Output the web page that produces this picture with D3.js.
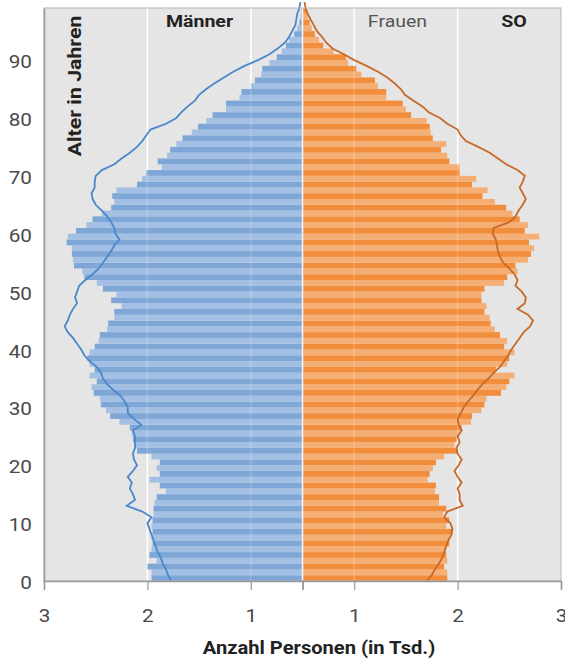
<!DOCTYPE html>
<html>
<head>
<meta charset="utf-8">
<script src="https://cdn.jsdelivr.net/npm/d3@7/dist/d3.min.js"></script>
<style>
  body { margin: 0; background: #fff; font-family: Roboto, "Liberation Sans", sans-serif; }
</style>
</head>
<body>
<div id="chart"></div>
<script>
// Anzahl Personen (in Tsd.) je Altersjahr 0..98, Balken
var maennerBalken = [
  1.96, 1.96, 2.00, 1.91, 1.98, 1.96, 1.95, 1.96, 1.95, 1.96,
  1.95, 1.94, 1.94, 1.93, 1.91, 1.82, 1.88, 1.98, 1.88, 1.91,
  1.88, 1.96, 2.10, 2.12, 2.14, 2.15, 2.17, 2.27, 2.36, 2.40,
  2.45, 2.46, 2.52, 2.54, 2.49, 2.56, 2.51, 2.56, 2.58, 2.56,
  2.51, 2.47, 2.46, 2.39, 2.38, 2.32, 2.32, 2.25, 2.35, 2.30,
  2.43, 2.49, 2.61, 2.63, 2.71, 2.72, 2.73, 2.73, 2.78, 2.77,
  2.69, 2.59, 2.53, 2.44, 2.35, 2.32, 2.34, 2.30, 2.10, 2.05,
  2.01, 1.86, 1.90, 1.81, 1.78, 1.72, 1.66, 1.57, 1.51, 1.43,
  1.37, 1.24, 1.24, 1.11, 1.09, 1.00, 0.96, 0.90, 0.89, 0.82,
  0.75, 0.70, 0.66, 0.63, 0.58, 0.55, 0.53, 0.52, 0.51
];
var frauenBalken = [
  1.90, 1.90, 1.87, 1.90, 1.89, 1.89, 1.92, 1.92, 1.95, 1.89,
  1.92, 1.86, 1.89, 1.82, 1.82, 1.78, 1.79, 1.71, 1.73, 1.76,
  1.79, 1.87, 2.00, 1.97, 1.99, 2.02, 2.04, 2.13, 2.14, 2.23,
  2.26, 2.28, 2.42, 2.47, 2.50, 2.55, 2.37, 2.48, 2.50, 2.55,
  2.45, 2.48, 2.41, 2.36, 2.32, 2.31, 2.26, 2.28, 2.23, 2.23,
  2.26, 2.45, 2.48, 2.58, 2.56, 2.68, 2.71, 2.74, 2.69, 2.79,
  2.65, 2.68, 2.60, 2.53, 2.47, 2.36, 2.24, 2.29, 2.14, 2.18,
  2.02, 2.02, 1.92, 1.90, 1.84, 1.89, 1.76, 1.74, 1.73, 1.70,
  1.55, 1.50, 1.47, 1.31, 1.31, 1.23, 1.20, 1.07, 1.02, 0.94,
  0.92, 0.80, 0.70, 0.66, 0.62, 0.59, 0.57, 0.55, 0.54
];
// Vergleichslinien je Altersjahr 0..100
var maennerLinie = [
  1.77, 1.80, 1.82, 1.85, 1.87, 1.90, 1.92, 1.94, 1.96, 1.98,
  2.00, 1.96, 2.05, 2.20, 2.12, 2.14, 2.17, 2.15, 2.19, 2.14,
  2.10, 2.13, 2.14, 2.12, 2.12, 2.12, 2.14, 2.06, 2.13, 2.19,
  2.19, 2.22, 2.26, 2.33, 2.39, 2.43, 2.45, 2.49, 2.56, 2.61,
  2.64, 2.68, 2.72, 2.77, 2.80, 2.77, 2.75, 2.72, 2.68, 2.70,
  2.68, 2.66, 2.60, 2.53, 2.47, 2.43, 2.39, 2.35, 2.32, 2.27,
  2.31, 2.32, 2.35, 2.39, 2.44, 2.50, 2.53, 2.54, 2.51, 2.51,
  2.50, 2.44, 2.32, 2.25, 2.17, 2.10, 2.05, 2.01, 1.97, 1.82,
  1.72, 1.67, 1.61, 1.54, 1.50, 1.43, 1.35, 1.26, 1.17, 1.06,
  0.93, 0.82, 0.74, 0.67, 0.63, 0.60, 0.57, 0.56, 0.55, 0.53,
  0.52
];
var frauenLinie = [
  1.70, 1.75, 1.78, 1.82, 1.85, 1.87, 1.89, 1.91, 1.94, 1.95,
  1.93, 1.87, 1.90, 2.05, 2.02, 2.02, 2.00, 2.04, 2.00, 1.97,
  2.01, 2.04, 2.00, 1.99, 2.02, 2.00, 2.04, 2.01, 2.00, 2.03,
  2.06, 2.10, 2.15, 2.19, 2.24, 2.30, 2.35, 2.41, 2.45, 2.49,
  2.52, 2.56, 2.60, 2.64, 2.70, 2.73, 2.68, 2.58, 2.65, 2.66,
  2.62, 2.56, 2.58, 2.55, 2.50, 2.44, 2.41, 2.39, 2.38, 2.37,
  2.34, 2.35, 2.50, 2.56, 2.59, 2.63, 2.66, 2.63, 2.60, 2.63,
  2.65, 2.58, 2.47, 2.39, 2.31, 2.20, 2.08, 2.03, 2.00, 1.90,
  1.83, 1.72, 1.66, 1.57, 1.49, 1.45, 1.39, 1.32, 1.23, 1.12,
  1.00, 0.90, 0.79, 0.73, 0.69, 0.64, 0.61, 0.58, 0.55, 0.53,
  0.52
];
var xTicks = [1, 2, 3];
var yTicks = [0, 10, 20, 30, 40, 50, 60, 70, 80, 90];

var width = 565, height = 662;
var margin = { top: 8, right: 4, bottom: 81, left: 44 };
var plotW = width - margin.left - margin.right;
var plotH = height - margin.top - margin.bottom;
var mitte = plotW / 2;
var stretch = 1.15; // the text in the original is a bit wider than Roboto

var svg = d3.select("#chart").append("svg")
  .attr("width", width)
  .attr("height", height);

var g = svg.append("g")
  .attr("transform", "translate(" + margin.left + "," + margin.top + ")");

// center of the chart is 0.5 Tsd., bars grow outwards
var xL = d3.scaleLinear().domain([0.5, 3]).range([mitte, 0]);
var xR = d3.scaleLinear().domain([0.5, 3]).range([mitte, plotW]);
var y = d3.scaleLinear().domain([0, 99]).range([plotH, 0]);
var barH = y(0) - y(1);

g.append("rect")
  .attr("width", plotW)
  .attr("height", plotH)
  .style("fill", "#e5e5e5");

// gridlines
xTicks.slice(0, 2).forEach(function(t) {
  [xL(t), xR(t)].forEach(function(px) {
    g.append("line")
      .attr("x1", px).attr("x2", px)
      .attr("y1", 0).attr("y2", plotH)
      .style("stroke", "#fff")
      .style("stroke-width", 1.5);
  });
});

g.selectAll(".bm").data(maennerBalken).enter().append("rect")
  .attr("class", "bm")
  .attr("x", function(d) { return xL(d); })
  .attr("y", function(d, i) { return y(i + 1); })
  .attr("width", function(d) { return xL(0.5) - xL(d); })
  .attr("height", barH)
  .style("fill", function(d, i) { return i % 2 == 0 ? "#7ea6d6" : "#a3bfe3"; });

g.selectAll(".bf").data(frauenBalken).enter().append("rect")
  .attr("class", "bf")
  .attr("x", xR(0.5))
  .attr("y", function(d, i) { return y(i + 1); })
  .attr("width", function(d) { return xR(d) - xR(0.5); })
  .attr("height", barH)
  .style("fill", function(d, i) { return i % 2 == 0 ? "#f28d3c" : "#f5ae74"; });

// faint gridlines through the bars
xTicks.slice(0, 2).forEach(function(t) {
  [xL(t), xR(t)].forEach(function(px) {
    g.append("line")
      .attr("x1", px).attr("x2", px)
      .attr("y1", 0).attr("y2", plotH)
      .style("stroke", "#fff")
      .style("stroke-opacity", 0.18)
      .style("stroke-width", 1.5);
  });
});

g.append("line")
  .attr("x1", mitte).attr("x2", mitte)
  .attr("y1", 0).attr("y2", plotH)
  .style("stroke", "#f4f4f4")
  .style("stroke-width", 1.6);

var lineM = d3.line()
  .x(function(d) { return xL(d); })
  .y(function(d, i) { return y(i); });
var lineF = d3.line()
  .x(function(d) { return xR(d); })
  .y(function(d, i) { return y(i); });

g.append("path")
  .attr("d", lineM(maennerLinie))
  .style("fill", "none")
  .style("stroke", "#4a87cb")
  .style("stroke-width", 1.8);

g.append("path")
  .attr("d", lineF(frauenLinie))
  .style("fill", "none")
  .style("stroke", "#c8692a")
  .style("stroke-width", 1.8);

// frame
g.append("rect")
  .attr("width", plotW)
  .attr("height", plotH)
  .style("fill", "none")
  .style("stroke", "#b5b5b5")
  .style("stroke-width", 1);

// axes
var axL = d3.axisBottom(xL).tickValues(xTicks).tickSize(9).tickFormat(d3.format("d"));
var axR = d3.axisBottom(xR).tickValues(xTicks).tickSize(9).tickFormat(d3.format("d"));
[axL, axR].forEach(function(ax) {
  var a = g.append("g")
    .attr("class", "x axis")
    .attr("transform", "translate(0," + plotH + ")")
    .call(ax);
  a.select(".domain").style("stroke", "#999").style("stroke-width", 1.5);
  a.selectAll(".tick line").style("stroke", "#999").style("stroke-width", 1.2);
  a.selectAll("text")
    .attr("y", 41)
    .attr("dy", 0)
    .attr("transform", "scale(" + stretch + ",1)")
    .style("font-family", "Roboto, sans-serif")
    .style("font-size", "18px")
    .style("fill", "#4a4a4a");
});

var yAx = g.append("g")
  .attr("class", "y axis")
  .call(d3.axisLeft(y).tickValues(yTicks).tickSize(0).tickPadding(10.5));
yAx.select(".domain").style("stroke", "#999").style("stroke-width", 1.5);
yAx.selectAll("text")
  .attr("dy", "0.42em")
  .attr("transform", "scale(" + stretch + ",1)")
  .style("font-family", "Roboto, sans-serif")
  .style("font-size", "18px")
  .style("fill", "#4a4a4a");

// labels
function label(parent, x, yy, txt, size, weight, color, rot) {
  return parent.append("text")
    .attr("transform", "translate(" + x + "," + yy + ")" + (rot ? " rotate(-90)" : "") + " scale(" + stretch + ",1)")
    .attr("text-anchor", "middle")
    .style("font-size", size + "px")
    .style("font-weight", weight)
    .style("fill", color)
    .text(txt);
}

label(g, 37, 78, "Alter in Jahren", 18.5, "bold", "#222", true);
label(g, 155.5, 19, "Männer", 17, "bold", "#222");
label(g, 353.5, 19, "Frauen", 17, "normal", "#555");
label(g, 470, 19, "SO", 17, "bold", "#222");
label(svg, 319, 654, "Anzahl Personen (in Tsd.)", 17.5, "bold", "#222");
</script>
</body>
</html>
